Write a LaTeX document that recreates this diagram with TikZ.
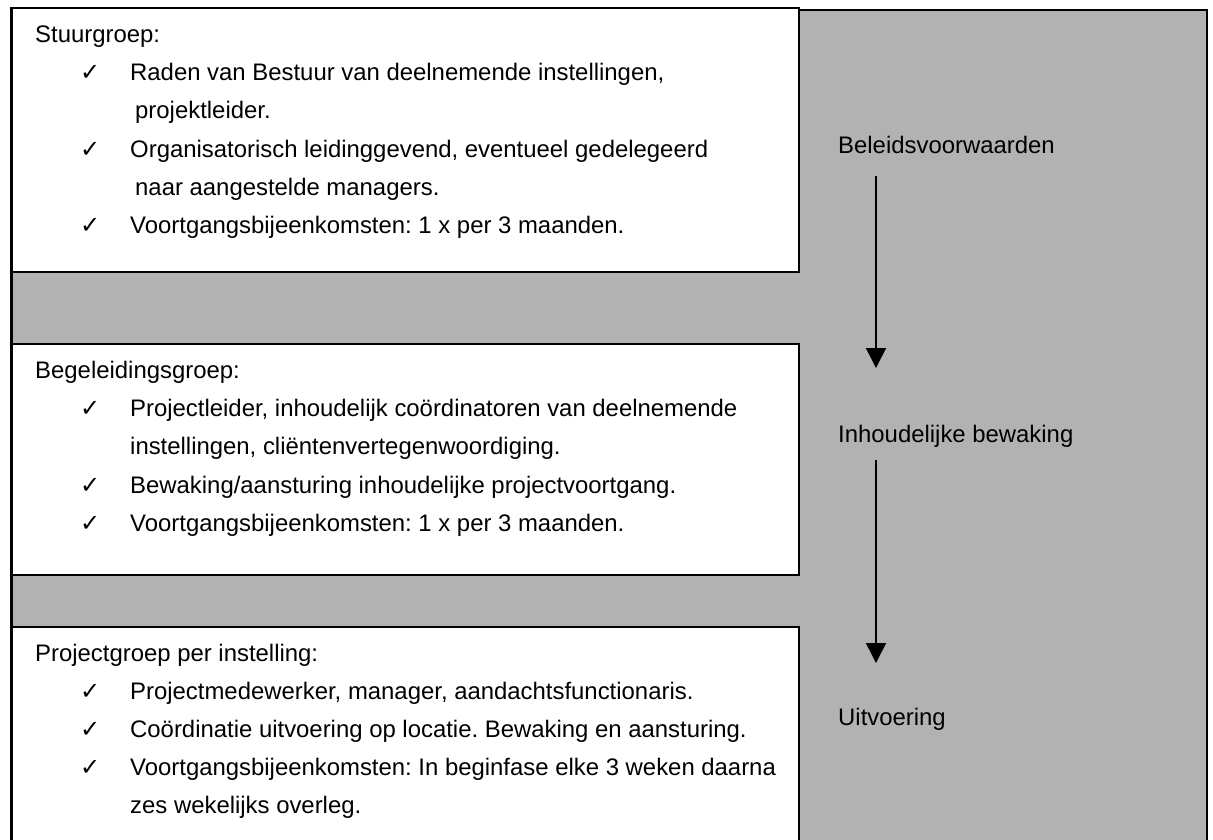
\documentclass[tikz,border=0pt]{standalone}
\usepackage{fontspec}
\setmainfont{Liberation Sans}
\newfontfamily\symfont{DejaVu Sans}
\usetikzlibrary{arrows.meta}
\frenchspacing
\begin{document}
\begin{tikzpicture}[x=1pt,y=-1pt,
  txt/.style={anchor=base west,inner sep=0pt,font=\frenchspacing\fontsize{23.9}{28}\selectfont},
  chk/.style={anchor=base west,inner sep=0pt,font=\symfont\fontsize{24}{28}\selectfont},
  panel/.style={draw=black,line width=2pt,fill=white},
  flow/.style={draw=black,line width=1.5pt,-{Triangle[width=20pt,length=20pt]}}]
\useasboundingbox (0,0) rectangle (1213,839);
% grey background
\path[draw=black,line width=2.2pt,fill=black!30] (11,10) rectangle (1207,850);
% white panels
\path[panel] (11,8) rectangle (799,272);
\path[panel] (11,344) rectangle (799,575);
\path[panel] (11,627) rectangle (799,850);
\draw[black,line width=3pt] (11,8) -- (11,850);
% box 1
\node[txt] (s0) at (35,42) {Stuurgroep:};
\node[chk] (c1) at (80,80) {✓};
\node[txt] (s1) at (130,80) {Raden van Bestuur van deelnemende instellingen,};
\node[txt] (s1b) at (135,118.5) {projektleider.};
\node[chk] (c2) at (80,157) {✓};
\node[txt] (s2) at (130,157) {Organisatorisch leidinggevend, eventueel gedelegeerd};
\node[txt] (s2b) at (135,195) {naar aangestelde managers.};
\node[chk] (c3) at (80,233) {✓};
\node[txt] (s3) at (130,233) {Voortgangsbijeenkomsten: 1 x per 3 maanden.};
% box 2
\node[txt] (b0) at (35,378) {Begeleidingsgroep:};
\node[chk] (d1) at (80,416) {✓};
\node[txt] (b1) at (130,416) {Projectleider, inhoudelijk coördinatoren van deelnemende};
\node[txt] (b1b) at (130,454.5) {instellingen, cliëntenvertegenwoordiging.};
\node[chk] (d2) at (80,493) {✓};
\node[txt] (b2) at (130,493) {Bewaking/aansturing inhoudelijke projectvoortgang.};
\node[chk] (d3) at (80,531) {✓};
\node[txt] (b3) at (130,531) {Voortgangsbijeenkomsten: 1 x per 3 maanden.};
% box 3
\node[txt] (p0) at (35,661) {Projectgroep per instelling:};
\node[chk] (e1) at (80,699) {✓};
\node[txt] (p1) at (130,699) {Projectmedewerker, manager, aandachtsfunctionaris.};
\node[chk] (e2) at (80,737) {✓};
\node[txt] (p2) at (130,737) {Coördinatie uitvoering op locatie. Bewaking en aansturing.};
\node[chk] (e3) at (80,775) {✓};
\node[txt] (p3) at (130,775) {Voortgangsbijeenkomsten: In beginfase elke 3 weken daarna};
\node[txt] (p3b) at (130,813) {zes wekelijks overleg.};
% right labels
\node[txt] (r1) at (838,153) {Beleidsvoorwaarden};
\node[txt] (r2) at (838,442) {Inhoudelijke bewaking};
\node[txt] (r3) at (838,725) {Uitvoering};
\coordinate (a1s) at (876,176);
\coordinate (a1e) at (876,368);
\coordinate (a2s) at (876,460);
\coordinate (a2e) at (876,663);
\draw[flow] (a1s) -- (a1e);
\draw[flow] (a2s) -- (a2e);
\end{tikzpicture}
\end{document}
